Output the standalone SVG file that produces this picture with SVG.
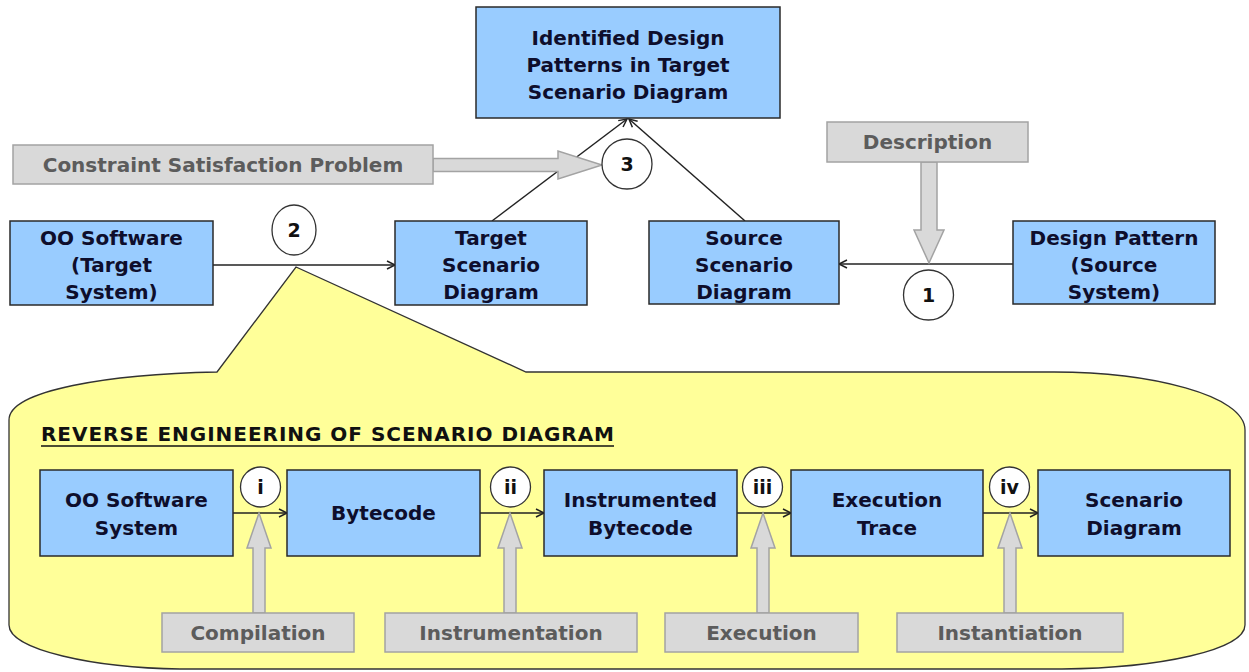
<svg xmlns="http://www.w3.org/2000/svg" width="1249" height="672" viewBox="0 0 1249 672">
  <defs>
    <style>
      .box { fill: #99ccff; stroke: #2a2a2a; stroke-width: 1.5; }
      .note { fill: #d9d9d9; stroke: #a3a3a3; stroke-width: 1.5; }
      .step { fill: #ffffff; stroke: #333333; stroke-width: 1.3; }
      .lbl { font-family: "DejaVu Sans", "Liberation Sans", sans-serif; font-weight: bold; font-size: 20px; fill: #0e0e2c; text-anchor: middle; }
      .glbl { font-family: "DejaVu Sans", "Liberation Sans", sans-serif; font-weight: bold; font-size: 20px; fill: #5c5c5c; text-anchor: middle; }
      .num { font-family: "DejaVu Sans", "Liberation Sans", sans-serif; font-weight: bold; font-size: 19px; fill: #111111; text-anchor: middle; }
      .wire { stroke: #222222; stroke-width: 1.5; fill: none; marker-end: url(#open); }
      .block { fill: #d9d9d9; stroke: #a3a3a3; stroke-width: 1.5; }
    </style>
    <marker id="open" markerUnits="userSpaceOnUse" markerWidth="12" markerHeight="12" refX="9" refY="5" orient="auto">
      <path d="M1,1 L9,5 L1,9" fill="none" stroke="#222222" stroke-width="1.5"/>
    </marker>
  </defs>

  <rect width="1249" height="672" fill="#ffffff"/>

  <!-- callout that expands step 2 -->
  <g id="callout">
    <path d="M217,372 L296,267 L526,372 L1054,372 C1150,372 1245,395 1245,430 L1245,625 C1245,650 1160,668 1062,669 L180,669 C95,668 9,650 9,625 L9,420 C9,390 110,374 217,372 Z" fill="#ffff99" stroke="#333333" stroke-width="1.3"/>
    <text x="41" y="441" font-family="DejaVu Sans, Liberation Sans, sans-serif" font-weight="bold" font-size="20" fill="#111111" textLength="573" lengthAdjust="spacing">REVERSE ENGINEERING OF SCENARIO DIAGRAM</text>
    <line x1="41" y1="446" x2="614" y2="446" stroke="#111111" stroke-width="1.6"/>
  </g>

  <!-- connectors -->
  <g id="connectors">
    <line class="wire" x1="492" y1="221" x2="627" y2="119"/>
    <line class="wire" x1="745" y1="221" x2="629" y2="119"/>
    <line class="wire" x1="213" y1="265" x2="395" y2="265"/>
    <line class="wire" x1="1013" y1="264" x2="839" y2="264"/>
    <line class="wire" x1="233" y1="513" x2="287" y2="513"/>
    <line class="wire" x1="480" y1="513" x2="544" y2="513"/>
    <line class="wire" x1="737" y1="513" x2="791" y2="513"/>
    <line class="wire" x1="983" y1="513" x2="1038" y2="513"/>
    <!-- block arrows -->
    <polygon class="block" points="433,158.5 558,158.5 558,151 602,165 558,179 558,171.5 433,171.5"/>
    <polygon class="block" points="921,162 937,162 937,230 944,230 929,263 914,230 921,230"/>
    <polygon class="block" points="253,613 253,548 247,548 259,513 271,548 265,548 265,613"/>
    <polygon class="block" points="504,613 504,548 498,548 510,513 522,548 516,548 516,613"/>
    <polygon class="block" points="757,613 757,548 751,548 763,513 775,548 769,548 769,613"/>
    <polygon class="block" points="1004,613 1004,548 998,548 1010,513 1022,548 1016,548 1016,613"/>
  </g>

  <!-- top level nodes -->
  <g id="identified">
    <rect class="box" x="476" y="7" width="304" height="111"/>
    <text class="lbl" x="628" y="45">Identified Design</text>
    <text class="lbl" x="628" y="72">Patterns in Target</text>
    <text class="lbl" x="628" y="99">Scenario Diagram</text>
  </g>
  <g id="csp">
    <rect class="note" x="13" y="145" width="420" height="39"/>
    <text class="glbl" x="223" y="172">Constraint Satisfaction Problem</text>
  </g>
  <g id="description">
    <rect class="note" x="827" y="122" width="201" height="40"/>
    <text class="glbl" x="927.5" y="149">Description</text>
  </g>
  <g id="oo-target">
    <rect class="box" x="10" y="221" width="203" height="84"/>
    <text class="lbl" x="111.5" y="245">OO Software</text>
    <text class="lbl" x="111.5" y="272">(Target</text>
    <text class="lbl" x="111.5" y="299">System)</text>
  </g>
  <g id="target-scenario">
    <rect class="box" x="395" y="221" width="192" height="84"/>
    <text class="lbl" x="491" y="245">Target</text>
    <text class="lbl" x="491" y="272">Scenario</text>
    <text class="lbl" x="491" y="299">Diagram</text>
  </g>
  <g id="source-scenario">
    <rect class="box" x="649" y="221" width="190" height="83"/>
    <text class="lbl" x="744" y="245">Source</text>
    <text class="lbl" x="744" y="272">Scenario</text>
    <text class="lbl" x="744" y="299">Diagram</text>
  </g>
  <g id="design-pattern">
    <rect class="box" x="1013" y="221" width="202" height="83"/>
    <text class="lbl" x="1114" y="245">Design Pattern</text>
    <text class="lbl" x="1114" y="272">(Source</text>
    <text class="lbl" x="1114" y="299">System)</text>
  </g>
  <g id="step-2">
    <ellipse class="step" cx="294" cy="230" rx="22" ry="25"/>
    <text class="num" x="294" y="237">2</text>
  </g>
  <g id="step-3">
    <circle class="step" cx="627" cy="164" r="25"/>
    <text class="num" x="627" y="171">3</text>
  </g>
  <g id="step-1">
    <circle class="step" cx="928.5" cy="295" r="25"/>
    <text class="num" x="928.5" y="302">1</text>
  </g>

  <!-- reverse engineering pipeline -->
  <g id="oo-system">
    <rect class="box" x="40" y="470" width="193" height="86"/>
    <text class="lbl" x="136.5" y="507">OO Software</text>
    <text class="lbl" x="136.5" y="535">System</text>
  </g>
  <g id="bytecode">
    <rect class="box" x="287" y="470" width="193" height="86"/>
    <text class="lbl" x="383.5" y="520">Bytecode</text>
  </g>
  <g id="instrumented">
    <rect class="box" x="544" y="470" width="193" height="86"/>
    <text class="lbl" x="640.5" y="507">Instrumented</text>
    <text class="lbl" x="640.5" y="535">Bytecode</text>
  </g>
  <g id="trace">
    <rect class="box" x="791" y="470" width="192" height="86"/>
    <text class="lbl" x="887" y="507">Execution</text>
    <text class="lbl" x="887" y="535">Trace</text>
  </g>
  <g id="scenario">
    <rect class="box" x="1038" y="470" width="192" height="86"/>
    <text class="lbl" x="1134" y="507">Scenario</text>
    <text class="lbl" x="1134" y="535">Diagram</text>
  </g>
  <g id="step-i">
    <circle class="step" cx="260.5" cy="487" r="20"/>
    <text class="num" x="260.5" y="494">i</text>
  </g>
  <g id="step-ii">
    <circle class="step" cx="510.5" cy="487" r="20"/>
    <text class="num" x="510.5" y="494">ii</text>
  </g>
  <g id="step-iii">
    <circle class="step" cx="762.5" cy="487" r="20"/>
    <text class="num" x="762.5" y="494">iii</text>
  </g>
  <g id="step-iv">
    <circle class="step" cx="1009.5" cy="487" r="20"/>
    <text class="num" x="1009.5" y="494">iv</text>
  </g>
  <g id="compilation">
    <rect class="note" x="162" y="613" width="192" height="39"/>
    <text class="glbl" x="258" y="640">Compilation</text>
  </g>
  <g id="instrumentation">
    <rect class="note" x="385" y="613" width="252" height="39"/>
    <text class="glbl" x="511" y="640">Instrumentation</text>
  </g>
  <g id="execution">
    <rect class="note" x="665" y="613" width="193" height="39"/>
    <text class="glbl" x="761.5" y="640">Execution</text>
  </g>
  <g id="instantiation">
    <rect class="note" x="897" y="613" width="226" height="39"/>
    <text class="glbl" x="1010" y="640">Instantiation</text>
  </g>
</svg>
